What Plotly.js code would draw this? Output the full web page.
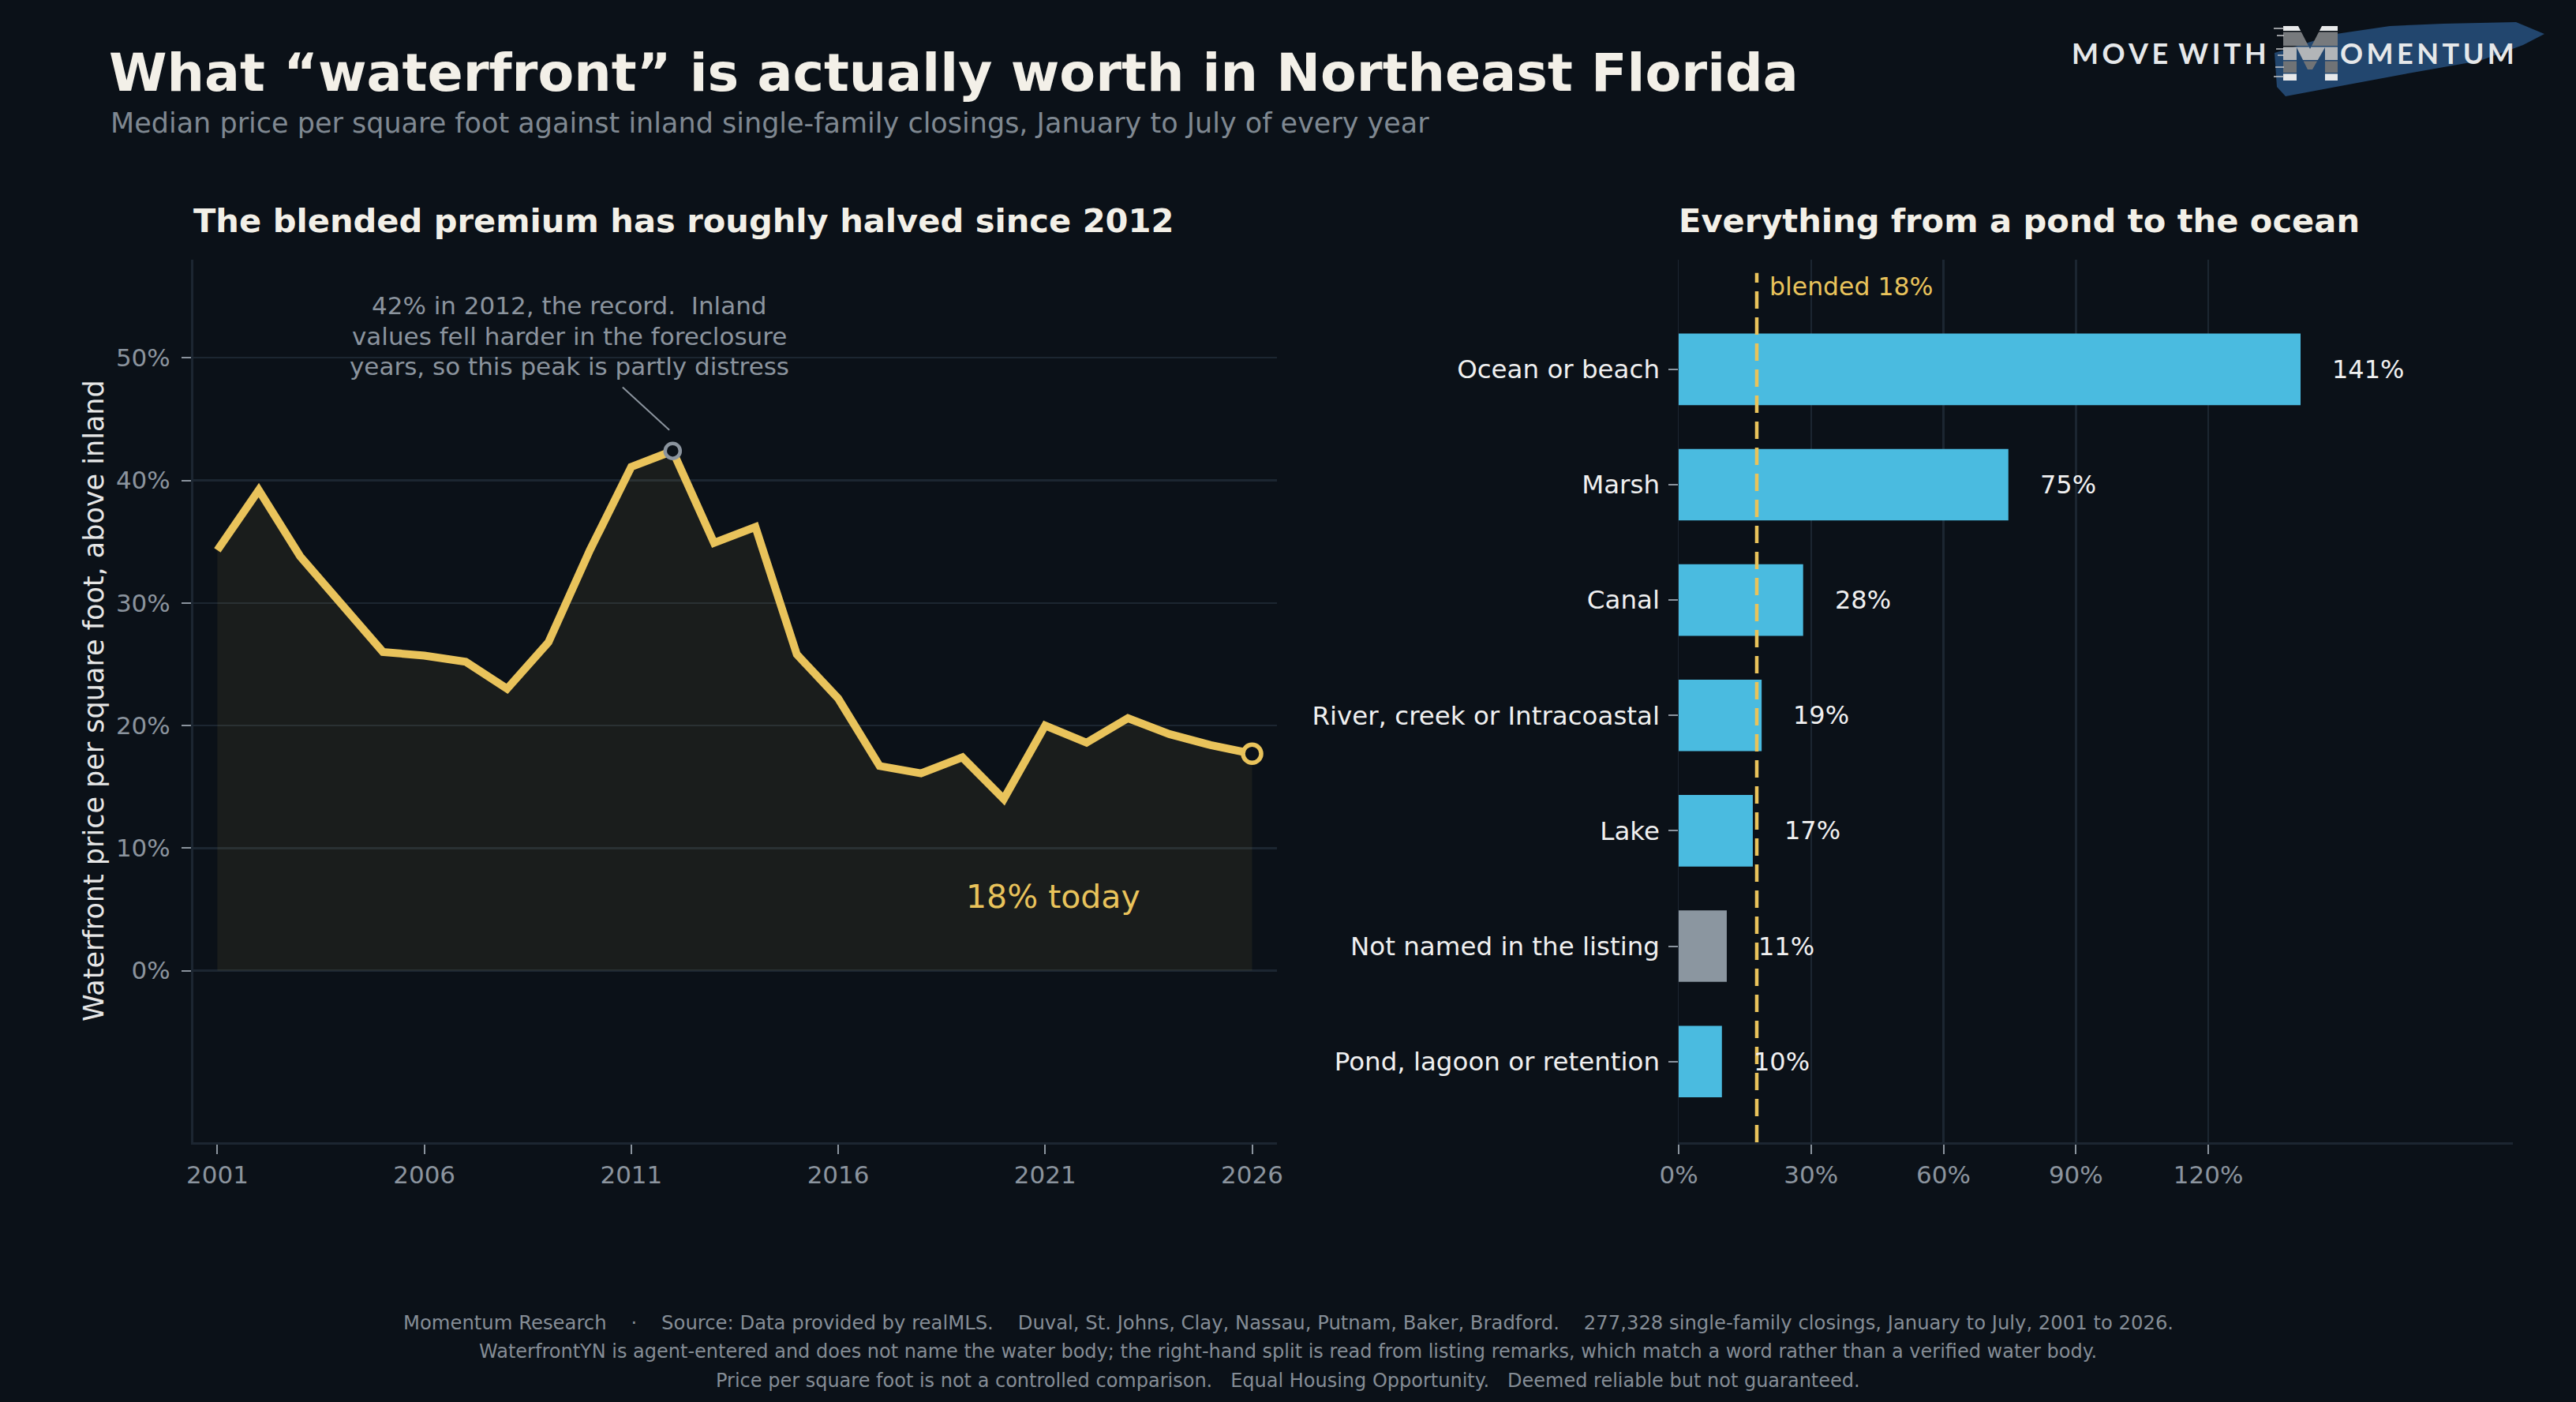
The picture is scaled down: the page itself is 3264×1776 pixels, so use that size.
<!DOCTYPE html>
<html>
<head>
<meta charset="utf-8">
<script src="https://cdn.plot.ly/plotly-3.0.1.min.js"></script>
<style>
html,body{margin:0;padding:0;background:#0b1118;}
#chart{width:3264px;height:1776px;}
</style>
</head>
<body>
<div id="chart"></div>
<script>
// ---------- data ----------
const years = [2001,2002,2003,2004,2005,2006,2007,2008,2009,2010,2011,2012,2013,2014,2015,2016,2017,2018,2019,2020,2021,2022,2023,2024,2025,2026];
const premium = [34.3,39.2,33.8,29.9,26.0,25.7,25.2,23.0,26.8,34.3,41.1,42.4,34.9,36.2,25.8,22.2,16.7,16.1,17.4,14.0,20.0,18.6,20.6,19.3,18.4,17.7];
const yearTicks = [2001,2006,2011,2016,2021,2026];
const pctTicks = [0,10,20,30,40,50];

const waterBodies = ["Ocean or beach","Marsh","Canal","River, creek or Intracoastal","Lake","Not named in the listing","Pond, lagoon or retention"];
const bodyPremium = [140.9,74.7,28.2,18.8,16.8,10.9,9.8];
const barTicks = [0,30,60,90,120];
const blended = 17.7;
const peakYear = 2012;

// ---------- helpers ----------
const W = 3264, H = 1776;
const px = x => x / W;
const py = y => 1 - y / H;
const FONT = "DejaVu Sans";
const BG = "#0b1118";
const GRID = "#1c2631";
const TICK = "#8b949e";
const YELLOW = "#e9c35b";
const BLUE = "#4abbe0";
const NOTNAMED = "#8b96a0";
const nb = s => s.replace(/ {2,}/g, m => "\u00a0".repeat(m.length));

const peakIdx = years.indexOf(peakYear);
const lastIdx = years.length - 1;

// ---------- traces ----------
const traces = [
  {
    type: "scatter", mode: "lines", x: years, y: premium,
    xaxis: "x", yaxis: "y",
    line: {color: YELLOW, width: 10},
    fill: "tozeroy", fillcolor: "rgba(233,195,91,0.07)",
    hoverinfo: "skip", showlegend: false
  },
  {
    type: "scatter", mode: "markers", x: [years[peakIdx]], y: [premium[peakIdx]],
    xaxis: "x", yaxis: "y",
    marker: {size: 19, color: BG, line: {color: TICK, width: 4.5}},
    hoverinfo: "skip", showlegend: false
  },
  {
    type: "scatter", mode: "markers", x: [years[lastIdx]], y: [premium[lastIdx]],
    xaxis: "x", yaxis: "y",
    marker: {size: 23, color: BG, line: {color: YELLOW, width: 5.5}},
    hoverinfo: "skip", showlegend: false
  },
  {
    type: "bar", orientation: "h", x: bodyPremium, y: waterBodies,
    xaxis: "x2", yaxis: "y2", width: 0.62,
    marker: {color: waterBodies.map(c => c.startsWith("Not named") ? NOTNAMED : BLUE)},
    hoverinfo: "skip", showlegend: false
  }
];

// ---------- annotations ----------
const ann = [];
function txt(text, x, y, size, color, opts) {
  ann.push(Object.assign({
    text: text, x: px(x), y: py(y), xref: "paper", yref: "paper",
    showarrow: false, xanchor: "left", yanchor: "middle",
    font: {family: FONT, size: size, color: color}
  }, opts || {}));
}
// titles
txt("<b>What \u201cwaterfront\u201d is actually worth in Northeast Florida</b>", 136, 92, 66.7, "#f3f0e8");
txt("Median price per square foot against inland single-family closings, January to July of every year", 138, 156, 35, "#7f8891");
txt("<b>The blended premium has roughly halved since 2012</b>", 243, 280, 41.6, "#f3f0e8");
txt("<b>Everything from a pond to the ocean</b>", 2125, 280, 41.6, "#f3f0e8");
// y title
txt("Waterfront price per square foot, above inland", 119, 888, 35, "#e6e6e6", {xanchor: "center", textangle: -90});
// footer
const footer = [
  "Momentum Research    \u00b7    Source: Data provided by realMLS.    Duval, St. Johns, Clay, Nassau, Putnam, Baker, Bradford.    277,328 single-family closings, January to July, 2001 to 2026.",
  "WaterfrontYN is agent-entered and does not name the water body; the right-hand split is read from listing remarks, which match a word rather than a verified water body.",
  "Price per square foot is not a controlled comparison.   Equal Housing Opportunity.   Deemed reliable but not guaranteed."
];
footer.forEach((t, i) => txt(nb(t), 1632, 1675 + i * 37, i === 0 ? 24.3 : 24, "#858d96", {xanchor: "center"}));

// callout lines (data coords)
const callout = ["42% in 2012, the record.  Inland", "values fell harder in the foreclosure", "years, so this peak is partly distress"];
callout.forEach((t, i) => ann.push({
  text: nb(t), x: 2009.5, y: 54.25 - i * 2.48, xref: "x", yref: "y",
  showarrow: false, xanchor: "center", yanchor: "middle",
  font: {family: FONT, size: 31, color: TICK}
}));
// today label
ann.push({
  text: Math.round(premium[lastIdx]) + "% today", x: 2021.2, y: 6.0, xref: "x", yref: "y",
  showarrow: false, xanchor: "center", yanchor: "middle",
  font: {family: FONT, size: 41, color: YELLOW}
});
// blended label
ann.push({
  text: "blended " + Math.round(blended) + "%", x: blended, y: py(363), xref: "x2", yref: "paper",
  xshift: 14, showarrow: false, xanchor: "left", yanchor: "middle",
  font: {family: FONT, size: 31.5, color: YELLOW}
});
// bar value labels
waterBodies.forEach((c, i) => ann.push({
  text: Math.round(bodyPremium[i]) + "%", x: bodyPremium[i], y: c, xref: "x2", yref: "y2",
  xshift: 38, showarrow: false, xanchor: "left", yanchor: "middle",
  font: {family: FONT, size: 32, color: "#f0f0f0"}
}));
// logo text
txt("M\u2009O\u2009V\u2009E\u2009 W\u2009I\u2009T\u2009H", 2748, 67, 36, "#e6e8ea", {xanchor: "center", font: {family: "Lato", size: 36, color: "#e6e8ea", weight: 700}});
txt("O\u2009M\u2009E\u2009N\u2009T\u2009U\u2009M", 3075, 67, 36, "#e6e8ea", {xanchor: "center", font: {family: "Lato", size: 36, color: "#e6e8ea", weight: 700}});

// ---------- shapes ----------
const toPath = pts => "M " + pts.map(p => px(p[0]).toFixed(5) + " " + py(p[1]).toFixed(5)).join(" L ") + " Z";
const brushPts = [[2882,67],[2960,43],[3028,33],[3096,30],[3188,28],[3224,43],[3197,57],[3142,77],[3051,93],[2960,110],[2896,122],[2885,110]];
const shapes = [
  {type: "path", path: toPath(brushPts), xref: "paper", yref: "paper", fillcolor: "#22466e", line: {width: 0}, layer: "below"}
];
// striped logo "M": slab M outline clipped into horizontal bands
const mPoly = [[2893,33],[2912,33],[2927,62],[2942,33],[2962,33],[2962,102],[2946,102],[2946,60],[2930,88],[2924,88],[2910,60],[2910,102],[2893,102]];
function clipY(poly, y, keepBelow) { // keepBelow: keep points with py >= y
  const out = [];
  const inside = p => keepBelow ? p[1] >= y : p[1] <= y;
  for (let i = 0; i < poly.length; i++) {
    const a = poly[i], b = poly[(i + 1) % poly.length];
    const ia = inside(a), ib = inside(b);
    if (ia) out.push(a);
    if (ia !== ib) {
      const t = (y - a[1]) / (b[1] - a[1]);
      out.push([a[0] + t * (b[0] - a[0]), y]);
    }
  }
  return out;
}
const mBands = [[33,39,"#e8e9ea"],[40.5,58,"#777a7d"],[59.5,76,"#b2b5b8"],[77.5,92,"#707376"],[93.5,102,"#e8e9ea"]];
mBands.forEach(b => {
  const poly = clipY(clipY(mPoly, b[0], true), b[1], false);
  if (poly.length > 2) shapes.push({type: "path", path: toPath(poly), xref: "paper", yref: "paper", fillcolor: b[2], line: {width: 0}, layer: "above"});
});
[[36,2881],[45,2885],[62,2884],[70,2886],[85,2883],[97,2881]].forEach(s => shapes.push({
  type: "line", xref: "paper", yref: "paper", x0: px(s[1]), x1: px(2894), y0: py(s[0]), y1: py(s[0]),
  line: {color: "#c8cacc", width: 1.5}, layer: "above"
}));
shapes.push(
  {type: "line", xref: "x2", yref: "y2 domain", x0: blended, x1: blended, y0: 0, y1: 0.985,
   line: {color: YELLOW, width: 4.5, dash: "22px,11px"}, layer: "above"},
  {type: "line", xref: "x", yref: "y", x0: 2011.92, y0: 44.1, x1: 2010.79, y1: 47.6,
   line: {color: TICK, width: 2}}
);

// ---------- layout ----------
const axisCommon = {
  tickfont: {family: FONT, size: 31, color: TICK},
  ticks: "outside", ticklen: 12, tickwidth: 2, tickcolor: TICK,
  showline: true, linecolor: GRID, linewidth: 3,
  zeroline: false, fixedrange: true
};
const layout = {
  width: W, height: H, autosize: false,
  paper_bgcolor: BG, plot_bgcolor: BG,
  margin: {l: 0, r: 0, t: 0, b: 0, pad: 0},
  showlegend: false,
  font: {family: FONT},
  xaxis: Object.assign({}, axisCommon, {
    domain: [px(245), px(1618)], anchor: "y",
    range: [2000.42, 2026.6], tickvals: yearTicks, ticktext: yearTicks.map(String),
    showgrid: false, ticklabelstandoff: 0
  }),
  yaxis: Object.assign({}, axisCommon, {
    domain: [py(1447), py(329)], anchor: "x",
    range: [-14, 58], tickvals: pctTicks, ticktext: pctTicks.map(v => v + "%"),
    showgrid: true, gridcolor: GRID, gridwidth: 2.5, ticklabelstandoff: 8
  }),
  xaxis2: Object.assign({}, axisCommon, {
    domain: [px(2127), px(3184)], anchor: "y2",
    range: [0, 189], tickvals: barTicks, ticktext: barTicks.map(v => v + "%"),
    showgrid: true, gridcolor: GRID, gridwidth: 2.5, ticklabelstandoff: 0
  }),
  yaxis2: Object.assign({}, axisCommon, {
    domain: [py(1447), py(329)], anchor: "x2",
    type: "category", categoryorder: "array", categoryarray: waterBodies,
    range: [6.70, -0.95], showgrid: false, linewidth: 1.5,
    tickfont: {family: FONT, size: 32.5, color: "#f0f0f0"}, ticklabelstandoff: 4
  }),
  annotations: ann,
  shapes: shapes
};

Plotly.newPlot("chart", traces, layout, {displayModeBar: false, staticPlot: true});
</script>
</body>
</html>
